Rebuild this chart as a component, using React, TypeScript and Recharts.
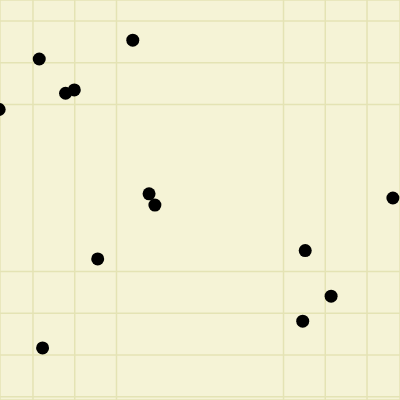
import React from "react";
import { ScatterChart, Scatter, XAxis, YAxis, CartesianGrid } from "recharts";

const xValues = [-4.81, -3.85, -3.22, -3.01, -1.61, -1.22, -1.08, -2.45, -3.77, 2.52, 3.14, 2.46, 4.62];
const yValues = [1.88, 3.09, 2.27, 2.35, 3.54, -0.14, -0.41, -1.7, -3.83, -1.5, -2.59, -3.19, -0.24];
const xTicks = [-4, -3, -2, 2, 3, 4];
const yTicks = [4, 3, 2, -2, -3, -4, -5];

const data = xValues.map((x, i) => ({ x, y: yValues[i] }));

const Dot = (props: any) => <circle cx={props.cx} cy={props.cy} r={6.5} fill="#000000" />;

export default function App() {
  return (
    <div
      style={{
        position: "absolute",
        left: 0,
        top: 0,
        width: 400,
        height: 400,
        background: "#f5f3d6",
      }}
    >
      <ScatterChart width={400} height={400} margin={{ top: 0, right: 0, bottom: 0, left: 0 }}>
        <CartesianGrid stroke="#e4e3b4" strokeWidth={1.5} />
        <XAxis
          type="number"
          dataKey="x"
          hide
          domain={[-4.79, 4.79]}
          ticks={xTicks}
          allowDataOverflow
        />
        <YAxis
          type="number"
          dataKey="y"
          hide
          domain={[-5.078, 4.503]}
          ticks={yTicks}
          allowDataOverflow
        />
        <Scatter data={data} fill="#000000" shape={Dot} isAnimationActive={false} />
      </ScatterChart>
    </div>
  );
}
